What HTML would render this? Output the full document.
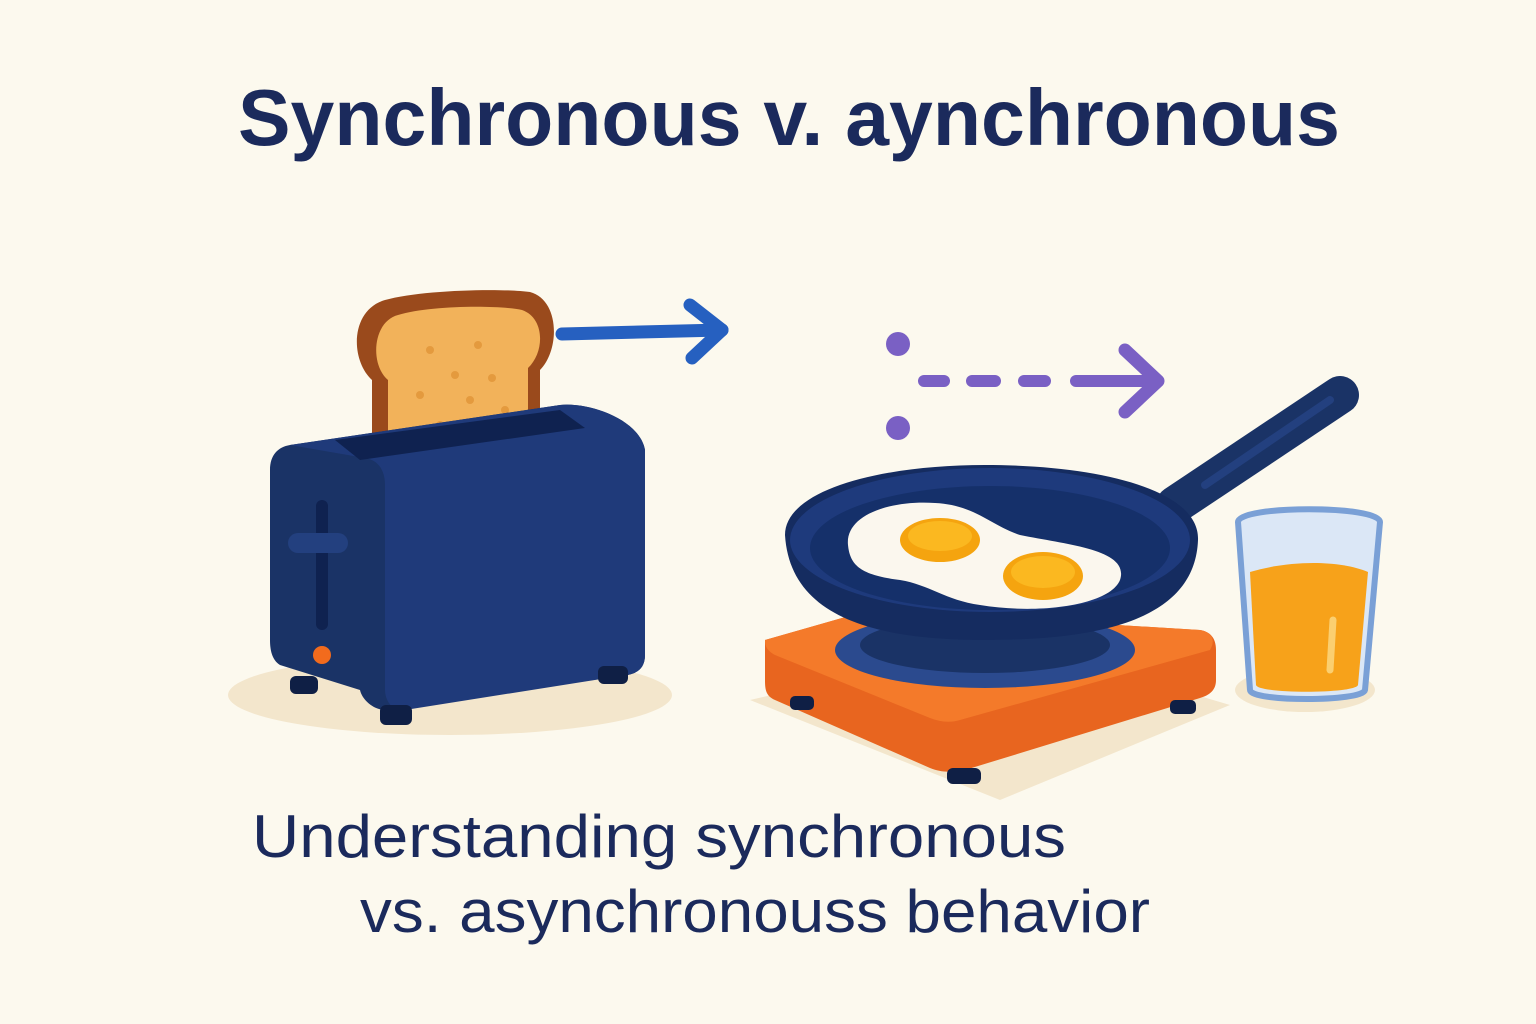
<!DOCTYPE html>
<html><head><meta charset="utf-8"><style>
html,body{margin:0;padding:0;background:#fcf9ee;}
svg{display:block}
</style></head><body>
<svg width="1536" height="1024" viewBox="0 0 1536 1024" xmlns="http://www.w3.org/2000/svg">
<rect width="1536" height="1024" fill="#fcf9ee"/>
<text x="238" y="145" font-family="Liberation Sans, sans-serif" font-weight="bold" font-size="80" fill="#1b2a5c" textLength="1102" lengthAdjust="spacingAndGlyphs">Synchronous v. aynchronous</text>

<!-- shadows -->
<ellipse cx="450" cy="695" rx="222" ry="40" fill="#f3e6cc"/>
<path d="M750 700 L1000 800 L1230 705 L1010 640 Z" fill="#f3e6cc"/>
<ellipse cx="1305" cy="690" rx="70" ry="22" fill="#f3e6cc"/>

<!-- toast -->
<path d="M372 460 L372 380 C350 360 350 310 385 300 C420 290 500 288 530 292 C560 300 560 350 540 370 L540 450 Z" fill="#9a4a1c"/>
<path d="M388 455 L388 380 C370 365 372 322 398 315 C430 305 500 305 522 310 C545 318 545 352 528 368 L528 450 Z" fill="#f2b25a"/>
<g fill="#e49a3e"><circle cx="430" cy="350" r="4"/><circle cx="478" cy="345" r="4"/><circle cx="455" cy="375" r="4"/><circle cx="492" cy="378" r="4"/><circle cx="420" cy="395" r="4"/><circle cx="470" cy="400" r="4"/><circle cx="505" cy="410" r="4"/><circle cx="440" cy="425" r="4"/></g>

<!-- toaster -->
<path d="M290 445 L560 405 C590 402 640 420 645 450 L645 655 C645 670 635 675 620 676 L390 710 C375 712 362 700 360 690 L280 665 C272 660 270 650 270 640 L270 470 C270 455 278 447 290 445 Z" fill="#1a3366"/>
<path d="M290 445 L560 405 C590 402 640 420 645 450 L645 655 C645 670 635 675 620 676 L405 710 C392 712 385 700 385 690 L385 485 C385 470 378 460 365 458 Z" fill="#1f3a7a"/>
<path d="M335 440 L560 410 L585 428 L360 460 Z" fill="#0f2250"/>
<rect x="316" y="500" width="12" height="130" rx="6" fill="#0f2250"/>
<rect x="288" y="533" width="60" height="20" rx="10" fill="#23407f"/>
<circle cx="322" cy="655" r="9" fill="#f26b1d"/>
<rect x="290" y="676" width="28" height="18" rx="6" fill="#0f1f45"/>
<rect x="380" y="705" width="32" height="20" rx="6" fill="#0f1f45"/>
<rect x="598" y="666" width="30" height="18" rx="6" fill="#0f1f45"/>

<!-- blue arrow -->
<path d="M562 334 L722 330" stroke="#2660c0" stroke-width="13" stroke-linecap="round" fill="none"/>
<path d="M690 305 L722 330 L692 358" stroke="#2660c0" stroke-width="13" stroke-linecap="round" stroke-linejoin="round" fill="none"/>

<!-- purple dashes -->
<g fill="#7a60c4"><circle cx="898" cy="344" r="12"/><circle cx="898" cy="428" r="12"/></g>
<g stroke="#7a60c4" stroke-width="12" stroke-linecap="round"><line x1="924" y1="381" x2="944" y2="381"/><line x1="972" y1="381" x2="995" y2="381"/><line x1="1024" y1="381" x2="1045" y2="381"/><line x1="1076" y1="381" x2="1155" y2="381"/></g>
<path d="M1125 350 L1158 381 L1125 412" stroke="#7a60c4" stroke-width="13" stroke-linecap="round" stroke-linejoin="round" fill="none"/>

<!-- stove -->
<path d="M765 640 L870 610 L1200 630 C1212 632 1216 640 1216 650 L1216 680 C1216 690 1210 695 1200 698 L965 770 C950 773 940 772 930 768 L775 700 C766 696 765 690 765 680 Z" fill="#e8651f"/>
<path d="M765 640 L870 610 L1200 630 C1212 632 1216 640 1210 650 L960 720 C950 723 940 722 930 718 L775 655 C766 650 765 645 765 640 Z" fill="#f47a2a"/>
<ellipse cx="985" cy="650" rx="150" ry="38" fill="#2b4a8e"/>
<ellipse cx="985" cy="645" rx="125" ry="28" fill="#1a3366"/>
<rect x="790" y="696" width="24" height="14" rx="5" fill="#0f1f45"/>
<rect x="947" y="768" width="34" height="16" rx="6" fill="#0f1f45"/>
<rect x="1170" y="700" width="26" height="14" rx="5" fill="#0f1f45"/>

<!-- pan handle -->
<path d="M1175 505 L1340 395" stroke="#1a3366" stroke-width="38" stroke-linecap="round"/>
<path d="M1205 485 L1330 400" stroke="#23407f" stroke-width="8" stroke-linecap="round"/>
<!-- pan -->
<path d="M785 535 C785 490 880 465 985 465 C1100 465 1200 490 1198 540 C1195 620 1100 640 985 640 C870 640 790 615 785 535 Z" fill="#152c60"/>
<ellipse cx="990" cy="540" rx="200" ry="72" fill="#1e3a7c"/>
<ellipse cx="990" cy="548" rx="180" ry="62" fill="#15306a"/>
<!-- eggs -->
<path d="M848 545 C845 515 890 500 935 503 C975 505 990 525 1020 535 C1070 545 1130 550 1120 580 C1110 605 1040 615 980 605 C945 600 930 585 900 580 C860 575 850 565 848 545 Z" fill="#fbf7ee"/>
<ellipse cx="940" cy="540" rx="40" ry="22" fill="#f5a40f"/>
<ellipse cx="940" cy="536" rx="32" ry="15" fill="#fbb820"/>
<ellipse cx="1043" cy="576" rx="40" ry="24" fill="#f5a40f"/>
<ellipse cx="1043" cy="572" rx="32" ry="16" fill="#fbb820"/>

<!-- glass -->
<path d="M1238 522 C1238 505 1380 505 1380 522 L1365 690 C1363 702 1250 702 1250 690 Z" fill="#dbe7f6" stroke="#7aa0d6" stroke-width="6"/>
<path d="M1250 572 C1290 560 1340 560 1368 572 L1358 685 C1355 694 1258 694 1256 685 Z" fill="#f7a21a"/>
<path d="M1333 620 L1330 670" stroke="#fbcf70" stroke-width="7" stroke-linecap="round"/>

<text x="252" y="857" font-family="Liberation Sans, sans-serif" font-size="60" fill="#1b2a5c" textLength="814" lengthAdjust="spacingAndGlyphs">Understanding synchronous</text>
<text x="360" y="932" font-family="Liberation Sans, sans-serif" font-size="60" fill="#1b2a5c" textLength="790" lengthAdjust="spacingAndGlyphs">vs. asynchronouss behavior</text>
</svg>
</body></html>
